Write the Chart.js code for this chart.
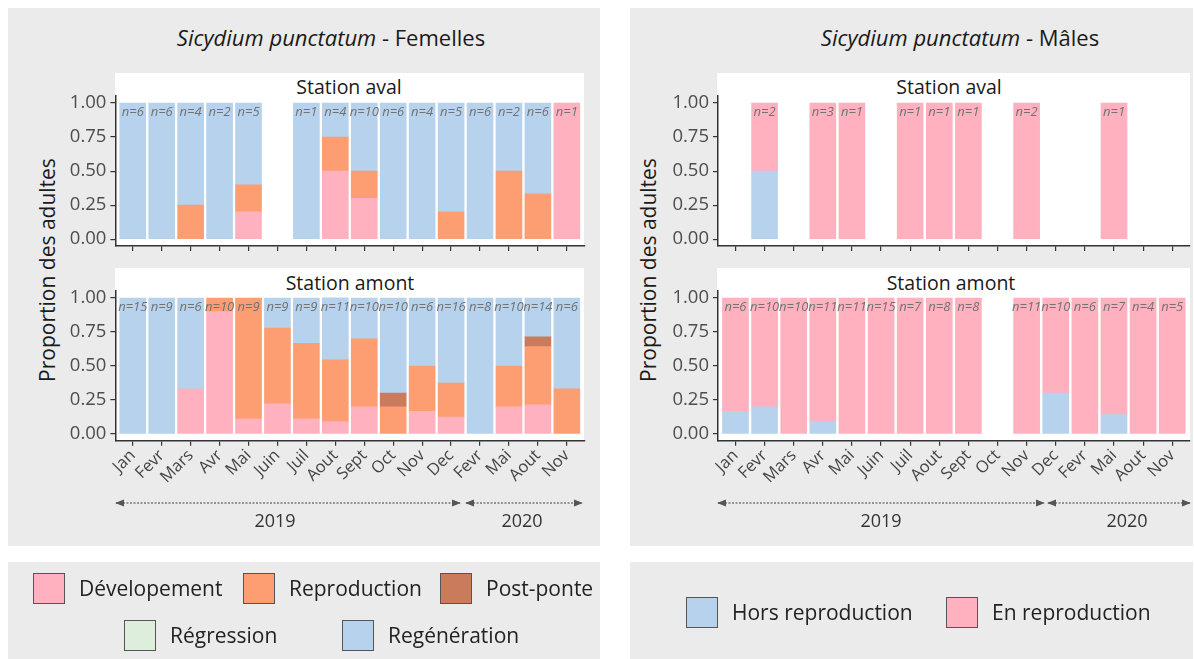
<!DOCTYPE html>
<html lang="fr">
<head>
<meta charset="UTF-8">
<title>Sicydium punctatum - stades de maturité</title>
<script src="https://cdn.jsdelivr.net/npm/chart.js"></script>
<style>
  body { margin: 0; width: 1194px; height: 659px; position: relative; overflow: hidden; background: #fff; font-family: 'Open Sans', sans-serif; color: #222; }
  .box { position: absolute; background: #ebebeb; }
  .panel { position: absolute; background: #fff; }
  .txt { position: absolute; white-space: nowrap; transform: translate(-50%, -50%); line-height: 1; }
  .title { font-size: 22px; color: #1a1a1a; }
  .strip { font-size: 19.5px; color: #1a1a1a; }
  .ytitle { font-size: 21px; color: #1a1a1a; transform: translate(-50%, -50%) rotate(-90deg); }
  .year { font-size: 18px; color: #333; }
  canvas { position: absolute; }
  .sq { position: absolute; width: 32px; height: 31px; border: 1px solid #555; box-sizing: border-box; }
  .lab { position: absolute; font-size: 21px; color: #222; line-height: 1; transform: translateY(-50%); white-space: nowrap; }
  svg { position: absolute; left: 0; top: 0; }
</style>
</head>
<body>
  <!-- fonds gris -->
  <div class="box" style="left:8px;top:8px;width:592px;height:538px"></div>
  <div class="box" style="left:630px;top:8px;width:563px;height:538px"></div>
  <div class="box" style="left:8px;top:562px;width:592px;height:97px"></div>
  <div class="box" style="left:630px;top:562px;width:563px;height:97px"></div>

  <!-- panneaux blancs (bandeau + zone de tracé) -->
  <div class="panel" style="left:115px;top:73px;width:469px;height:173px"></div>
  <div class="panel" style="left:115px;top:268px;width:469px;height:173px"></div>
  <div class="panel" style="left:717px;top:73px;width:473px;height:173px"></div>
  <div class="panel" style="left:717px;top:268px;width:473px;height:173px"></div>

  <div class="txt title" style="left:331px;top:37px"><i>Sicydium punctatum</i> - Femelles</div>
  <div class="txt title" style="left:960px;top:37px"><i>Sicydium punctatum</i> - Mâles</div>

  <div class="txt strip" style="left:349px;top:87px">Station aval</div>
  <div class="txt strip" style="left:350px;top:283px">Station amont</div>
  <div class="txt strip" style="left:949px;top:87px">Station aval</div>
  <div class="txt strip" style="left:951px;top:283px">Station amont</div>

  <div class="txt ytitle" style="left:47px;top:270px">Proportion des adultes</div>
  <div class="txt ytitle" style="left:648px;top:270px">Proportion des adultes</div>

  <canvas id="fAval" width="592" height="162" style="left:8px;top:90px"></canvas>
  <canvas id="fAmont" width="592" height="220" style="left:8px;top:285px"></canvas>
  <canvas id="mAval" width="563" height="162" style="left:630px;top:90px"></canvas>
  <canvas id="mAmont" width="563" height="220" style="left:630px;top:285px"></canvas>

  <!-- flèches des années -->
  <svg width="1194" height="659">
    <defs>
      <marker id="fl" viewBox="0 0 10 10" refX="9" refY="5" markerWidth="7" markerHeight="7" orient="auto-start-reverse">
        <path d="M0,1 L10,5 L0,9 z" fill="#555"/>
      </marker>
    </defs>
    <g stroke="#777" stroke-width="1.3" stroke-dasharray="2,1.5" marker-start="url(#fl)" marker-end="url(#fl)">
      <line x1="116" y1="503" x2="460" y2="503"/>
      <line x1="466" y1="503" x2="582" y2="503"/>
      <line x1="718" y1="503" x2="1044" y2="503"/>
      <line x1="1048" y1="503" x2="1190" y2="503"/>
    </g>
  </svg>
  <div class="txt year" style="left:275px;top:520px">2019</div>
  <div class="txt year" style="left:522px;top:520px">2020</div>
  <div class="txt year" style="left:881px;top:520px">2019</div>
  <div class="txt year" style="left:1127px;top:520px">2020</div>

  <!-- légendes -->
  <div class="sq" style="left:33px;top:573px;background:#ffb1bf"></div>
  <div class="lab" style="left:79px;top:588px">Dévelopement</div>
  <div class="sq" style="left:243px;top:573px;background:#fd9d72"></div>
  <div class="lab" style="left:289px;top:588px">Reproduction</div>
  <div class="sq" style="left:440px;top:573px;background:#c97b5c"></div>
  <div class="lab" style="left:486px;top:588px">Post-ponte</div>
  <div class="sq" style="left:124px;top:620px;background:#deeedd"></div>
  <div class="lab" style="left:170px;top:635px">Régression</div>
  <div class="sq" style="left:342px;top:620px;background:#b7d2ec"></div>
  <div class="lab" style="left:388px;top:635px">Regénération</div>

  <div class="sq" style="left:686px;top:597px;background:#b7d2ec"></div>
  <div class="lab" style="left:732px;top:612px">Hors reproduction</div>
  <div class="sq" style="left:946px;top:597px;background:#ffb1bf"></div>
  <div class="lab" style="left:992px;top:612px">En reproduction</div>

<script>
const mois = ['Jan', 'Fevr', 'Mars', 'Avr', 'Mai', 'Juin', 'Juil', 'Aout', 'Sept', 'Oct', 'Nov', 'Dec', 'Fevr', 'Mai', 'Aout', 'Nov'];
const yTicks = [0, 0.25, 0.5, 0.75, 1];

// Femelles - station aval (proportions par stade, null = pas d'échantillon)
const nAvalF      = [6, 6, 4, 2, 5, null, 1, 4, 10, 6, 4, 5, 6, 2, 6, 1];
const devAvalF    = [0, 0, 0, 0, 0.2, null, 0, 0.5, 0.3, 0, 0, 0, 0, 0, 0, 1];
const reproAvalF  = [0, 0, 0.25, 0, 0.2, null, 0, 0.25, 0.2, 0, 0, 0.2, 0, 0.5, 0.333, 0];
const postAvalF   = [0, 0, 0, 0, 0, null, 0, 0, 0, 0, 0, 0, 0, 0, 0, 0];
const regrAvalF   = [0, 0, 0, 0, 0, null, 0, 0, 0, 0, 0, 0, 0, 0, 0, 0];
const regenAvalF  = [1, 1, 0.75, 1, 0.6, null, 1, 0.25, 0.5, 1, 1, 0.8, 1, 0.5, 0.667, 0];

// Femelles - station amont
const nAmontF     = [15, 9, 6, 10, 9, 9, 9, 11, 10, 10, 6, 16, 8, 10, 14, 6];
const devAmontF   = [0, 0, 0.333, 0.9, 0.111, 0.222, 0.111, 0.091, 0.2, 0, 0.167, 0.125, 0, 0.2, 0.214, 0];
const reproAmontF = [0, 0, 0, 0.1, 0.889, 0.556, 0.556, 0.455, 0.5, 0.2, 0.333, 0.25, 0, 0.3, 0.429, 0.333];
const postAmontF  = [0, 0, 0, 0, 0, 0, 0, 0, 0, 0.1, 0, 0, 0, 0, 0.071, 0];
const regrAmontF  = [0, 0, 0, 0, 0, 0, 0, 0, 0, 0, 0, 0, 0, 0, 0, 0];
const regenAmontF = [1, 1, 0.667, 0, 0, 0.222, 0.333, 0.455, 0.3, 0.7, 0.5, 0.625, 1, 0.5, 0.286, 0.667];

// Mâles - station aval
const nAvalM      = [null, 2, null, 3, 1, null, 1, 1, 1, null, 2, null, null, 1, null, null];
const horsAvalM   = [null, 0.5, null, 0, 0, null, 0, 0, 0, null, 0, null, null, 0, null, null];
const enAvalM     = [null, 0.5, null, 1, 1, null, 1, 1, 1, null, 1, null, null, 1, null, null];

// Mâles - station amont
const nAmontM     = [6, 10, 10, 11, 11, 15, 7, 8, 8, null, 11, 10, 6, 7, 4, 5];
const horsAmontM  = [0.167, 0.2, 0, 0.091, 0, 0, 0, 0, 0, null, 0, 0.3, 0, 0.143, 0, 0];
const enAmontM    = [0.833, 0.8, 1, 0.909, 1, 1, 1, 1, 1, null, 1, 0.7, 1, 0.857, 1, 1];

const couleurs = {
  dev: '#ffb1bf', repro: '#fd9d72', post: '#c97b5c', regr: '#deeedd', regen: '#b7d2ec',
  hors: '#b7d2ec', en: '#ffb1bf'
};

const FONT = "'Open Sans', sans-serif";

// une valeur par mois -> points {x, y} sur l'axe linéaire des mois (les zéros ne dessinent rien)
function points(arr) {
  return arr.map((v, i) => (v == null || v === 0 ? null : { x: i, y: v })).filter(p => p);
}

function serie(label, arr, color) {
  return { label: label, data: points(arr), backgroundColor: color, borderWidth: 0, barThickness: 26 };
}

// étiquettes "n=.." en haut des barres
const nLabels = {
  id: 'nLabels',
  afterDatasetsDraw(chart, args, opts) {
    const { ctx, scales: { x, y } } = chart;
    ctx.save();
    ctx.font = 'italic 13px ' + FONT;
    ctx.fillStyle = '#727272';
    ctx.textAlign = 'center';
    ctx.textBaseline = 'middle';
    opts.counts.forEach((n, i) => {
      if (n == null) return;
      ctx.fillText('n=' + n, x.getPixelForValue(i), y.getPixelForValue(1) + 9);
    });
    ctx.restore();
  }
};

function panneau(id, datasets, counts, cfg) {
  const axe = { display: true, color: '#333', width: 1.5 };
  const grille = { display: true, drawOnChartArea: false, drawTicks: true, tickLength: 5, color: '#333', lineWidth: 1.2, offset: false };
  new Chart(document.getElementById(id), {
    type: 'bar',
    data: { datasets: datasets },
    plugins: [nLabels],
    options: {
      responsive: false,
      animation: false,
      layout: { padding: { top: 6.2, right: cfg.right, left: 0, bottom: 0 } },
      plugins: {
        legend: { display: false },
        tooltip: { enabled: false },
        nLabels: { counts: counts }
      },
      scales: {
        x: {
          type: 'linear', stacked: true, offset: false,
          min: -0.6, max: mois.length - 0.4,
          afterBuildTicks: s => { s.ticks = mois.map((m, i) => ({ value: i })); },
          afterFit: s => { s.height = cfg.xh; s.paddingLeft = 0; s.paddingRight = 0; },
          ticks: {
            display: cfg.labels, autoSkip: false,
            minRotation: 45, maxRotation: 45,
            callback: v => mois[v],
            color: '#444', padding: 0,
            font: { family: FONT, size: 16.5 }
          },
          grid: grille, border: axe
        },
        y: {
          stacked: true, min: -0.05, max: 1.05,
          afterBuildTicks: s => { s.ticks = yTicks.map(v => ({ value: v })); },
          afterFit: s => { s.width = cfg.yw; s.paddingTop = 0; s.paddingBottom = 0; },
          ticks: {
            callback: v => v.toFixed(2),
            color: '#4d4d4d', padding: 4,
            font: { family: FONT, size: 18.5 }
          },
          grid: grille, border: axe
        }
      }
    }
  });
}

function stadesFemelles(dev, repro, post, regr, regen) {
  return [
    serie('Dévelopement', dev, couleurs.dev),
    serie('Reproduction', repro, couleurs.repro),
    serie('Post-ponte', post, couleurs.post),
    serie('Régression', regr, couleurs.regr),
    serie('Regénération', regen, couleurs.regen)
  ];
}

function stadesMales(hors, en) {
  return [
    serie('Hors reproduction', hors, couleurs.hors),
    serie('En reproduction', en, couleurs.en)
  ];
}

panneau('fAval', stadesFemelles(devAvalF, reproAvalF, postAvalF, regrAvalF, regenAvalF), nAvalF,
  { yw: 107.4, right: 15.8, xh: 6, labels: false });
panneau('fAmont', stadesFemelles(devAmontF, reproAmontF, postAmontF, regrAmontF, regenAmontF), nAmontF,
  { yw: 107.4, right: 15.8, xh: 64.2, labels: true });
panneau('mAval', stadesMales(horsAvalM, enAvalM), nAvalM,
  { yw: 88, right: 3.3, xh: 6, labels: false });
panneau('mAmont', stadesMales(horsAmontM, enAmontM), nAmontM,
  { yw: 88, right: 3.3, xh: 64.2, labels: true });
</script>
</body>
</html>
